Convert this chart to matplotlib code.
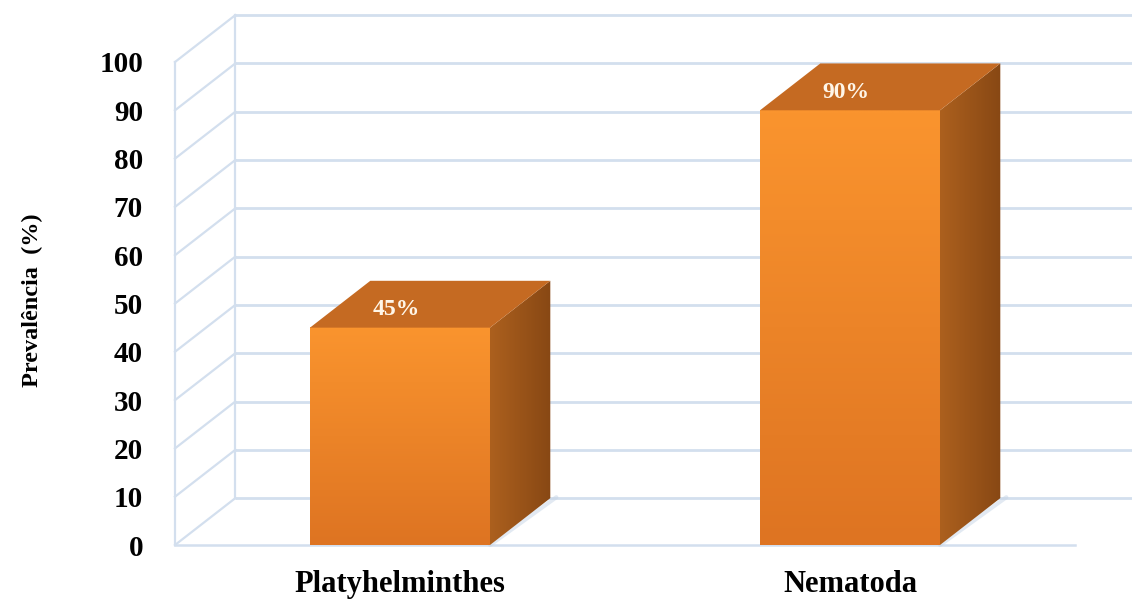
import matplotlib.pyplot as plt
import numpy as np
from matplotlib.patches import Polygon

categories = ['Platyhelminthes', 'Nematoda']
prevalence = [45, 90]
value_labels = ['45%', '90%']
yticks = list(range(0, 101, 10))

W, H = 1132, 599
fig = plt.figure(figsize=(W / 100, H / 100), dpi=100)
ax = fig.add_axes([175 / W, 54 / H, 900 / W, 483 / H])

serif = ['Liberation Serif', 'DejaVu Serif']
dx, dy = 0.134, 9.7      # depth offset of the fake 3D box (x units, y units)
bar_w = 0.4
wall_c = '#d3dfee'
x_back = -0.5 + dx
x_right = 1.65

# back wall gridlines + left wall diagonals
for t in yticks:
    ax.plot([x_back, x_right], [t + dy, t + dy], color=wall_c, lw=2,
            clip_on=False, zorder=1, solid_capstyle='butt')
    ax.plot([-0.5, x_back], [t, t + dy], color=wall_c, lw=1.6,
            clip_on=False, zorder=1)
ax.plot([-0.5, -0.5], [0, 100], color=wall_c, lw=1.6, clip_on=False, zorder=1)
ax.plot([x_back, x_back], [dy, 100 + dy], color=wall_c, lw=1.6, clip_on=False, zorder=1)
ax.plot([-0.5, 1.5], [0, 0], color=wall_c, lw=1.8, clip_on=False, zorder=1)


def vgrad(top, bottom, n=64):
    top, bottom = np.array(top) / 255, np.array(bottom) / 255
    f = np.linspace(0, 1, n)[:, None]
    return (top * (1 - f) + bottom * f)[:, None, :]


def hgrad(left, right, n=64):
    left, right = np.array(left) / 255, np.array(right) / 255
    f = np.linspace(0, 1, n)[None, :, None]
    return left * (1 - f) + right * f


for i, v in enumerate(prevalence):
    x0, x1 = i - bar_w / 2, i + bar_w / 2

    # soft floor shadow along the bottom edge of the side face
    ax.plot([x1, x1 + dx * 1.1], [0, dy * 1.02], color='#c6d5e6', lw=3,
            alpha=0.5, zorder=2, solid_capstyle='round', clip_on=False)

    # front face
    ax.imshow(vgrad((250, 148, 46), (222, 116, 34)), extent=[x0, x1, 0, v],
              aspect='auto', zorder=3, interpolation='bilinear')

    # side face
    side = Polygon([(x1, 0), (x1 + dx, dy), (x1 + dx, v + dy), (x1, v)],
                   closed=True, facecolor='none', edgecolor='none', zorder=3)
    ax.add_patch(side)
    img = ax.imshow(hgrad((172, 96, 30), (136, 72, 20)),
                    extent=[x1, x1 + dx, 0, v + dy], aspect='auto', zorder=3,
                    interpolation='bilinear')
    img.set_clip_path(side)

    # top face
    ax.add_patch(Polygon([(x0, v), (x1, v), (x1 + dx, v + dy), (x0 + dx, v + dy)],
                         closed=True, facecolor='#c56a22', edgecolor='none',
                         zorder=4, clip_on=False))

    ax.text(i - 0.008, v + dy * 0.38, value_labels[i], color='#fff6e8',
            fontsize=17, fontweight='bold', family=serif,
            ha='center', va='center', zorder=5, clip_on=False)

ax.set_xlim(-0.5, 1.5)
ax.set_ylim(0, 100)
ax.set_xticks(range(len(categories)))
ax.set_xticklabels(categories, fontsize=22, fontweight='bold', family=serif)
ax.set_yticks(yticks)
ax.set_yticklabels([str(t) for t in yticks], fontsize=21, fontweight='bold', family=serif)
ax.tick_params(axis='x', length=0, pad=18)
ax.tick_params(axis='y', length=0, pad=23)
for s in ax.spines.values():
    s.set_visible(False)

ax.set_ylabel('Prevalência  (%)', fontsize=17.5, fontweight='bold', family=serif)
ax.yaxis.set_label_coords(-0.147, 0.507)

fig.savefig('out.png', dpi=100)
